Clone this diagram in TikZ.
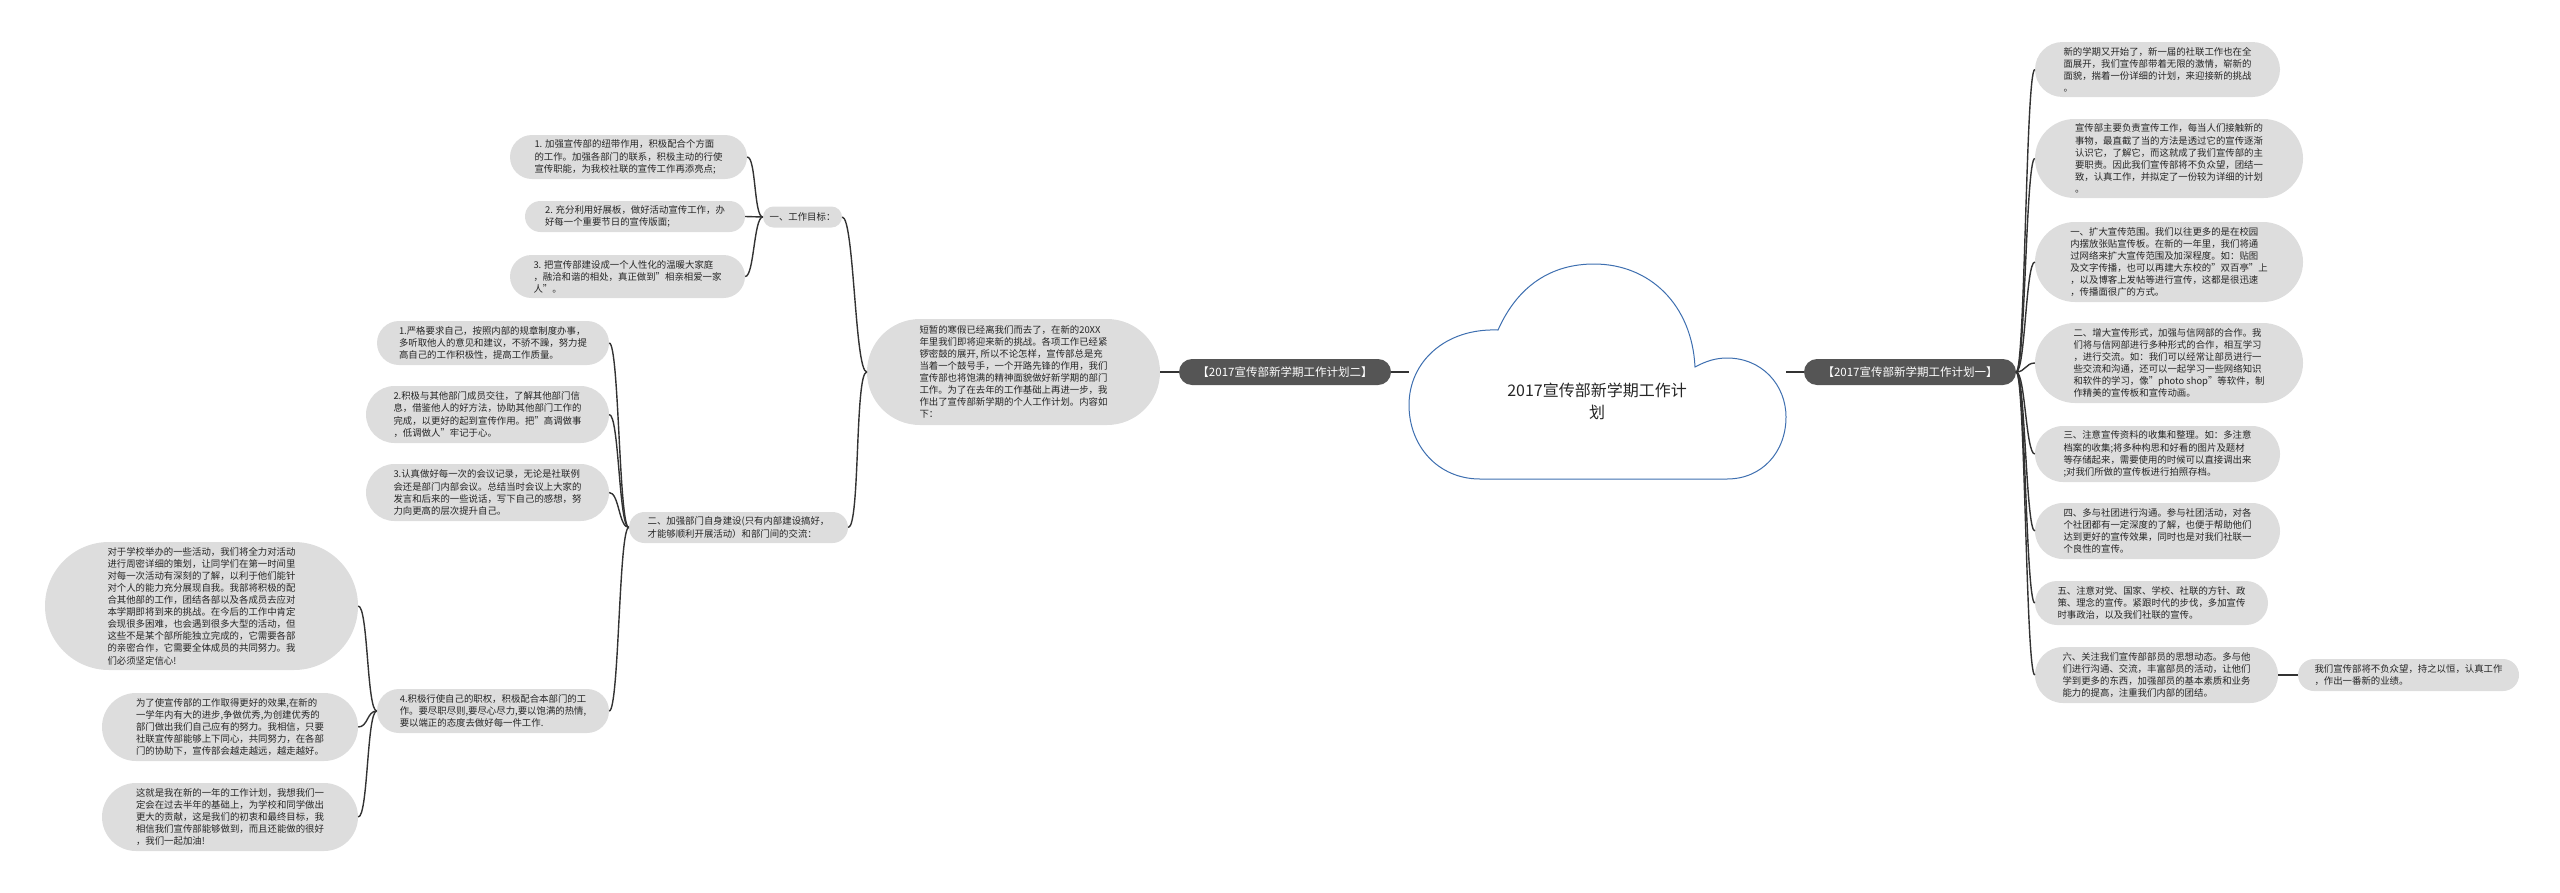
\documentclass[tikz,border=0pt]{standalone}
\usepackage{fontspec}
\setmainfont{Noto Sans CJK SC}
\definecolor{pillgray}{HTML}{DDDDDD}
\definecolor{labgray}{HTML}{555555}
\definecolor{cloudblue}{HTML}{3E6FB0}
\definecolor{linegray}{HTML}{333333}
\newcommand\leaffont{\fontsize{9.4pt}{12.1pt}\selectfont}
\tikzset{
  pill/.style 2 args={fill=pillgray, text=black!85, font=\leaffont, align=left,
    inner sep=0pt, minimum width=#1, minimum height=#2, rounded corners=#2/2},
  headbox/.style={fill=labgray, text=white, font=\fontsize{11.5pt}{14pt}\selectfont,
    inner sep=0pt, minimum width=212, minimum height=26, rounded corners=13},
  conn/.style={draw=linegray, line width=1.4pt},
  cloudline/.style={draw=cloudblue, line width=1pt, fill=white},
}
\begin{document}
\begin{tikzpicture}[x=1pt,y=-1pt]
\useasboundingbox (0,0) rectangle (2560,892);

% centre
\draw[cloudline] (1480,479) .. controls (1438,479) and (1409,446) .. (1409,405)
  .. controls (1409,362) and (1445,328) .. (1498,330)
  .. controls (1518,285) and (1552,264) .. (1594,264)
  .. controls (1650,264) and (1692,305) .. (1695,367)
  .. controls (1706,361) and (1716,358) .. (1727,358)
  .. controls (1762,358) and (1786,385) .. (1786,417)
  .. controls (1786,452) and (1762,479) .. (1727,479) -- cycle;
\node[font=\fontsize{16pt}{22pt}\selectfont, align=center, text=black!85] (root) at (1597,401) {2017宣传部新学期工作计\\划};
\coordinate (cloudW) at (1409,372);
\coordinate (cloudE) at (1786,372);

\node[headbox] (labR) at (1910,372) {【2017宣传部新学期工作计划一】};
\node[headbox] (labL) at (1285,372) {【2017宣传部新学期工作计划二】};

% right side
\node[pill={245}{55}] (r1) at (2157.5,69.5) {新的学期又开始了，新一届的社联工作也在全\\面展开，我们宣传部带着无限的激情，崭新的\\面貌，揣着一份详细的计划，来迎接新的挑战\\。};
\node[pill={268}{79}] (r2) at (2169,158.5) {宣传部主要负责宣传工作，每当人们接触新的\\事物，最直截了当的方法是透过它的宣传逐渐\\认识它，了解它，而这就成了我们宣传部的主\\要职责。因此我们宣传部将不负众望，团结一\\致，认真工作，并拟定了一份较为详细的计划\\。};
\node[pill={268}{80}] (r3) at (2169,262) {一、扩大宣传范围。我们以往更多的是在校园\\内摆放张贴宣传板。在新的一年里，我们将通\\过网络来扩大宣传范围及加深程度。如：贴图\\及文字传播，也可以再建大东校的"双百亭"上\\，以及博客上发帖等进行宣传，这都是很迅速\\，传播面很广的方式。};
\node[pill={268}{80}] (r4) at (2169,363) {二、增大宣传形式，加强与信网部的合作。我\\们将与信网部进行多种形式的合作，相互学习\\，进行交流。如：我们可以经常让部员进行一\\些交流和沟通，还可以一起学习一些网络知识\\和软件的学习，像"photo shop"等软件，制\\作精美的宣传板和宣传动画。};
\node[pill={245}{56}] (r5) at (2157.5,454) {三、注意宣传资料的收集和整理。如：多注意\\档案的收集;将多种构思和好看的图片及题材\\等存储起来，需要使用的时候可以直接调出来\\;对我们所做的宣传板进行拍照存档。};
\node[pill={245}{56}] (r6) at (2157.5,531) {四、多与社团进行沟通。参与社团活动，对各\\个社团都有一定深度的了解，也便于帮助他们\\达到更好的宣传效果，同时也是对我们社联一\\个良性的宣传。};
\node[pill={233}{44}] (r7) at (2151.5,603) {五、注意对党、国家、学校、社联的方针、政\\策、理念的宣传。紧跟时代的步伐，多加宣传\\时事政治，以及我们社联的宣传。};
\node[pill={243}{56}] (r8) at (2156.5,675) {六、关注我们宣传部部员的思想动态。多与他\\们进行沟通、交流，丰富部员的活动，让他们\\学到更多的东西，加强部员的基本素质和业务\\能力的提高，注重我们内部的团结。};
\node[pill={221}{32}] (r9) at (2408.5,675) {我们宣传部将不负众望，持之以恒，认真工作\\，作出一番新的业绩。};

% left side
\node[pill={293}{106}] (m) at (1013.5,372) {短暂的寒假已经离我们而去了，在新的20XX\\年里我们即将迎来新的挑战。各项工作已经紧\\锣密鼓的展开, 所以不论怎样，宣传部总是充\\当着一个鼓号手，一个开路先锋的作用，我们\\宣传部也将饱满的精神面貌做好新学期的部门\\工作。为了在去年的工作基础上再进一步，我\\作出了宣传部新学期的个人工作计划。内容如\\下：};

\node[pill={79}{21}] (g1) at (802.5,217) {一、工作目标：};
\node[pill={237}{44}] (t1) at (628.5,157) {1. 加强宣传部的纽带作用，积极配合个方面\\的工作。加强各部门的联系，积极主动的行使\\宣传职能，为我校社联的宣传工作再添亮点;};
\node[pill={220}{31}] (t2) at (635,216.5) {2. 充分利用好展板，做好活动宣传工作，办\\好每一个重要节日的宣传版面;};
\node[pill={235}{43}] (t3) at (627.5,276.5) {3. 把宣传部建设成一个人性化的温暖大家庭\\，融洽和谐的相处，真正做到"相亲相爱一家\\人"。};

\node[pill={219}{31}] (g2) at (738.5,527.5) {二、加强部门自身建设(只有内部建设搞好，\\才能够顺利开展活动）和部门间的交流：};
\node[pill={232}{44}] (n1) at (493,343) {1.严格要求自己，按照内部的规章制度办事，\\多听取他人的意见和建议，不骄不躁，努力提\\高自己的工作积极性，提高工作质量。};
\node[pill={243}{57}] (n2) at (487.5,414.5) {2.积极与其他部门成员交往，了解其他部门信\\息，借鉴他人的好方法，协助其他部门工作的\\完成，以更好的起到宣传作用。把"高调做事\\，低调做人"牢记于心。};
\node[pill={243}{57}] (n3) at (487.5,492.5) {3.认真做好每一次的会议记录，无论是社联例\\会还是部门内部会议。总结当时会议上大家的\\发言和后来的一些说话，写下自己的感想，努\\力向更高的层次提升自己。};
\node[pill={232}{44}] (n4) at (493,711) {4.积极行使自己的职权，积极配合本部门的工\\作。要尽职尽则,要尽心尽力,要以饱满的热情,\\要以端正的态度去做好每一件工作.};

\node[pill={313}{128}] (l1) at (201.5,606) {对于学校举办的一些活动，我们将全力对活动\\进行周密详细的策划，让同学们在第一时间里\\对每一次活动有深刻的了解，以利于他们能针\\对个人的能力充分展现自我。我部将积极的配\\合其他部的工作，团结各部以及各成员去应对\\本学期即将到来的挑战。在今后的工作中肯定\\会现很多困难，也会遇到很多大型的活动，但\\这些不是某个部所能独立完成的，它需要各部\\的亲密合作，它需要全体成员的共同努力。我\\们必须坚定信心!};
\node[pill={256}{68}] (l2) at (230,727) {为了使宣传部的工作取得更好的效果,在新的\\一学年内有大的进步,争做优秀,为创建优秀的\\部门做出我们自己应有的努力。我相信，只要\\社联宣传部能够上下同心，共同努力，在各部\\门的协助下，宣传部会越走越远，越走越好。};
\node[pill={256}{68}] (l3) at (230,817) {这就是我在新的一年的工作计划，我想我们一\\定会在过去半年的基础上，为学校和同学做出\\更大的贡献，这是我们的初衷和最终目标，我\\相信我们宣传部能够做到，而且还能做的很好\\，我们一起加油!};

% connectors
\draw[conn] (labL.east) -- (cloudW);
\draw[conn] (cloudE) -- (labR.west);
\foreach \n in {1,...,8}
  \draw[conn] (labR.east) .. controls +(9,0) and +(-9,0) .. (r\n.west);
\draw[conn] (r8.east) -- (r9.west);
\draw[conn] (m.east) -- (labL.west);
\draw[conn] (m.west) .. controls +(-12,0) and +(12,0) .. (g1.east);
\draw[conn] (m.west) .. controls +(-12,0) and +(12,0) .. (g2.east);
\foreach \n in {1,2,3}
  \draw[conn] (g1.west) .. controls +(-9,0) and +(9,0) .. (t\n.east);
\foreach \n in {1,...,4}
  \draw[conn] (g2.west) .. controls +(-10,0) and +(10,0) .. (n\n.east);
\foreach \n in {1,2,3}
  \draw[conn] (n4.west) .. controls +(-10,0) and +(10,0) .. (l\n.east);
\end{tikzpicture}
\end{document}
